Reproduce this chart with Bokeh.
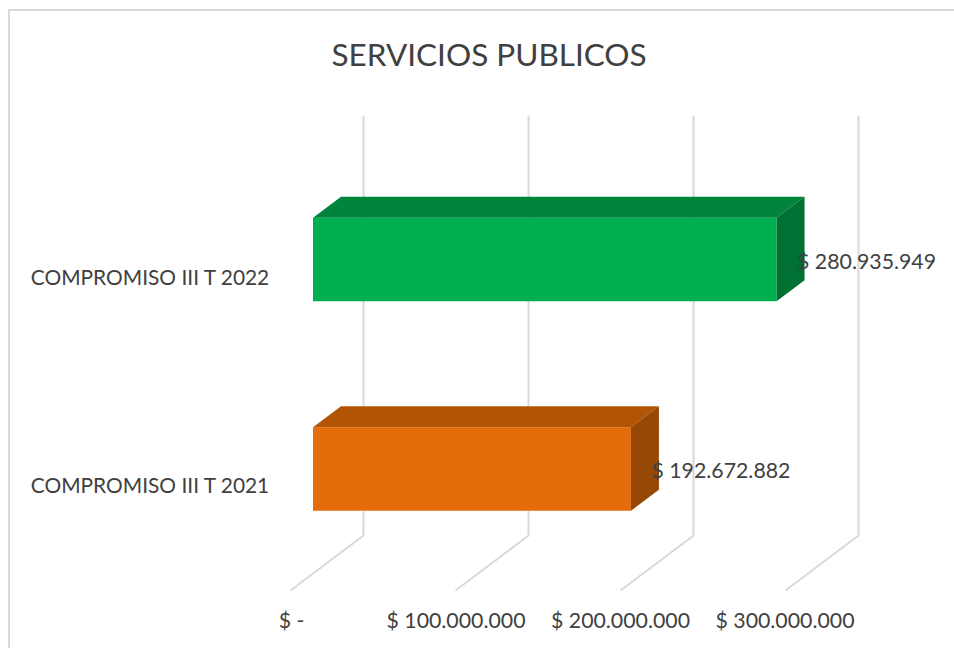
from bokeh.plotting import figure
from bokeh.models import Range1d, LinearAxis, FixedTicker, ColumnDataSource, Title
from bokeh.core.properties import value
from bokeh.embed import file_html
from bokeh.resources import INLINE

# ---- data ----
title_text = "SERVICIOS PUBLICOS"
categories = ["COMPROMISO III T 2021", "COMPROMISO III T 2022"]
amounts = [192672882, 280935949]
amount_labels = ["$ 192.672.882", "$ 280.935.949"]
tick_values = [0, 100000000, 200000000, 300000000]
tick_labels = ["$ -", "$ 100.000.000", "$ 200.000.000", "$ 300.000.000"]
front_colors = ["#E46C0A", "#00B050"]
top_colors = ["#B35404", "#00843B"]
side_colors = ["#964805", "#007033"]

# ---- layout ----
FONT = "Lato"
TEXT = "#404040"
GRID = "#D9D9D9"
PX_X = 1.65 / 1e6      # px per money unit
PX_TICK = 1.645 / 1e6  # px per money unit of the 3-D front edge
PX_Y = 209.5           # px per category step
PX_LABEL = 208.5       # px per category step of the category labels
F_L, F_R, F_T, F_B = 275, 954, 100, 600
ORIGIN_X, ORIGIN_Y = 312.5, 468.5
W, H = 954, 648
def xv(px): return (px - ORIGIN_X) / PX_X
def yv(px): return (ORIGIN_Y - px) / PX_Y
DX = 28 / PX_X
DY = 21 / PX_Y
HALF = 41.75 / PX_Y
ys = list(range(len(categories)))

grad = f"linear-gradient({GRID},{GRID})"
p = figure(width=W, height=H, output_backend="svg", toolbar_location=None,
           x_range=Range1d(xv(F_L), xv(F_R)), y_range=Range1d(yv(F_B), yv(F_T)),
           x_axis_type=None, y_axis_type=None,
           min_border_left=F_L, min_border_right=W - F_R,
           min_border_top=F_T, min_border_bottom=H - F_B,
           styles={"background": f"{grad} 8px 9px / 946px 2px no-repeat, {grad} 8px 9px / 2px 639px no-repeat"})
p.outline_line_color = None
p.grid.visible = False
p.background_fill_color = None
p.border_fill_color = None

# 3-D floor and wall grid lines
back = 50.5 / PX_X
front = -22.5 / PX_X
for t in tick_values:
    p.line([t + front, t + back, t + back], [yv(590), yv(535), yv(115)],
           line_color=GRID, line_width=2, line_join="miter")

# bars
p.hbar(y=ys, left=0, right=amounts, height=2 * HALF, color=front_colors, line_color=None)
tops_x = [[0, a, a + DX, DX] for a in amounts]
tops_y = [[y + HALF, y + HALF, y + HALF + DY, y + HALF + DY] for y in ys]
p.patches(tops_x, tops_y, fill_color=top_colors, line_color=None)
side_x = [[a, a + DX, a + DX, a] for a in amounts]
side_y = [[y - HALF, y - HALF + DY, y + HALF + DY, y + HALF] for y in ys]
p.patches(side_x, side_y, fill_color=side_colors, line_color=None)

# value labels
src = ColumnDataSource(dict(x=amounts, y=ys, t=amount_labels))
p.text("x", "y", text="t", source=src, x_offset=20.5, y_offset=1, text_baseline="middle",
       text_font=value(FONT), text_font_size="21.3px", text_color=TEXT)

# axes on ranges shifted to the 3-D front edge
p.extra_x_ranges["front"] = Range1d((F_L - 291) / PX_TICK, (F_R - 291) / PX_TICK)
xa = LinearAxis(x_range_name="front", ticker=FixedTicker(ticks=tick_values),
                major_label_overrides=dict(zip(tick_values, tick_labels)))
p.extra_y_ranges["labels"] = Range1d((484 - F_B) / PX_LABEL, (484 - F_T) / PX_LABEL)
ya = LinearAxis(y_range_name="labels", ticker=FixedTicker(ticks=ys),
                major_label_overrides=dict(zip(ys, categories)))
for ax in (xa, ya):
    ax.axis_line_color = None
    ax.major_tick_line_color = None
    ax.minor_tick_line_color = None
    ax.major_tick_in = 0
    ax.major_tick_out = 0
    ax.major_label_text_font = FONT
    ax.major_label_text_color = TEXT
xa.major_label_text_font_size = "21.3px"
ya.major_label_text_font_size = "20.9px"
xa.major_label_standoff = 6
ya.major_label_standoff = 5
p.add_layout(xa, "below")
p.add_layout(ya, "left")

# title
p.title = Title(text=title_text, align="left", offset=56, standoff=55,
                text_font=FONT, text_font_size="31.5px", text_font_style="normal", text_color=TEXT)

open("out.html", "w").write(file_html(p, INLINE))
